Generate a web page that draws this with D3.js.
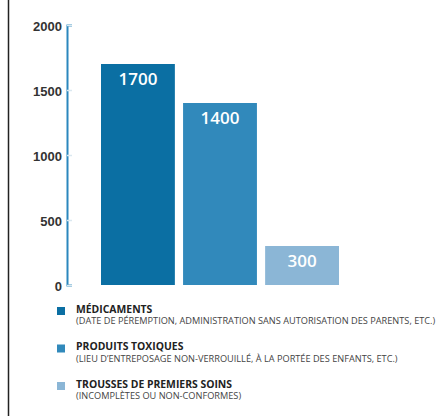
<!DOCTYPE html>
<html>
<head>
<meta charset="utf-8">
<script src="https://cdn.jsdelivr.net/npm/d3@7"></script>
<style>
  body { margin: 0; background: #fff; }
  svg { display: block; font-family: "Open Sans", sans-serif; }
</style>
</head>
<body>
<div id="chart"></div>
<script>
const categories = ["MÉDICAMENTS", "PRODUITS TOXIQUES", "TROUSSES DE PREMIERS SOINS"];
const details = [
  "(DATE DE PÉREMPTION, ADMINISTRATION SANS AUTORISATION DES PARENTS, ETC.)",
  "(LIEU D’ENTREPOSAGE NON-VERROUILLÉ, À LA PORTÉE DES ENFANTS, ETC.)",
  "(INCOMPLÈTES OU NON-CONFORMES)"
];
const values = [1700, 1400, 300];
const yTicks = [0, 500, 1000, 1500, 2000];
const colors = ["#0b6fa3", "#3189bb", "#8bb6d6"];

const width = 447, height = 416;
const axisColor = "#2b87be";

const svg = d3.select("#chart").append("svg")
    .attr("width", width)
    .attr("height", height);

// frame line on the left
svg.append("line")
    .attr("x1", 8.5).attr("x2", 8.5)
    .attr("y1", 0).attr("y2", height)
    .attr("stroke", "#222")
    .attr("stroke-width", 1.5);

const x = d3.scaleBand()
    .domain(categories)
    .range([101, 339])
    .paddingInner(0.1);

const y = d3.scaleLinear()
    .domain([0, 2000])
    .range([285, 25]);

const axis = svg.append("g")
    .attr("transform", "translate(67,0)")
    .call(d3.axisLeft(y)
        .tickValues(yTicks)
        .tickFormat(d3.format("d"))
        .tickSizeInner(-5)
        .tickSizeOuter(-5)
        .tickPadding(5));

axis.select(".domain")
    .attr("stroke", axisColor)
    .attr("stroke-width", 2);
axis.selectAll(".tick line")
    .attr("stroke", "#dbe8f0")
    .attr("stroke-width", 1.5);
axis.selectAll(".tick text")
    .attr("fill", "#333")
    .attr("font-size", 13)
    .attr("font-weight", 700)
    .attr("dy", "0.4em");

const bars = svg.append("g");
bars.selectAll("rect")
    .data(values)
    .join("rect")
    .attr("x", (d, i) => x(categories[i]))
    .attr("y", d => y(d))
    .attr("width", x.bandwidth())
    .attr("height", d => y(0) - y(d))
    .attr("fill", (d, i) => colors[i]);

bars.selectAll("text")
    .data(values)
    .join("text")
    .attr("x", (d, i) => x(categories[i]) + x.bandwidth() / 2)
    .attr("y", d => y(d) + 21)
    .attr("text-anchor", "middle")
    .attr("fill", "#fff")
    .attr("font-size", 17)
    .attr("font-weight", 600)
    .text(d => d);

// legend
const legend = svg.append("g")
    .selectAll("g")
    .data(categories)
    .join("g")
    .attr("transform", (d, i) => `translate(0,${313 + i * 37.5})`);

legend.append("rect")
    .attr("x", 57)
    .attr("y", -6)
    .attr("width", 8)
    .attr("height", 8)
    .attr("fill", (d, i) => colors[i]);

legend.append("text")
    .attr("x", 76)
    .attr("y", -0.5)
    .attr("fill", "#222")
    .attr("font-size", 10.4)
    .attr("font-weight", 700)
    .text(d => d);

legend.append("text")
    .attr("x", 76)
    .attr("y", 11)
    .attr("fill", "#444")
    .attr("font-size", 9.2)
    .text((d, i) => details[i]);
</script>
</body>
</html>
